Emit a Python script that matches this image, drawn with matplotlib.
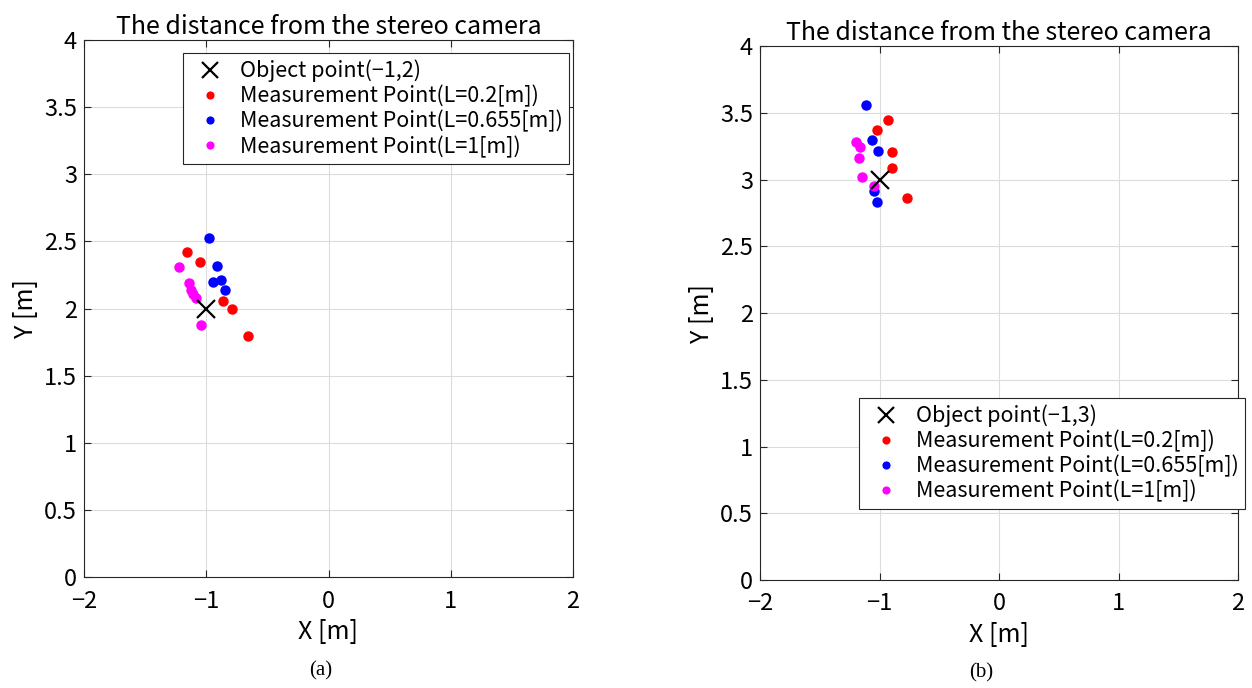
import matplotlib
matplotlib.use('Agg')
import matplotlib.pyplot as plt

plt.rcParams['font.family'] = ['Noto Sans CJK JP', 'DejaVu Sans']
plt.rcParams['axes.unicode_minus'] = True

# ---------------- data ----------------
# (a) object at (-1,2)
obj_a = (-1, 2)
red_a_x = [-1.155, -1.049, -0.861, -0.787, -0.657]
red_a_y = [2.421, 2.346, 2.056, 1.999, 1.793]
blue_a_x = [-0.975, -0.910, -0.943, -0.883, -0.850]
blue_a_y = [2.523, 2.317, 2.195, 2.210, 2.140]
mag_a_x = [-1.226, -1.139, -1.123, -1.105, -1.082, -1.044]
mag_a_y = [2.309, 2.190, 2.138, 2.110, 2.078, 1.877]

# (b) object at (-1,3)
obj_b = (-1, 3)
red_b_x = [-0.932, -1.025, -0.893, -0.895, -0.770]
red_b_y = [3.443, 3.373, 3.206, 3.088, 2.861]
blue_b_x = [-1.111, -1.064, -1.015, -1.044, -1.023]
blue_b_y = [3.558, 3.296, 3.213, 2.914, 2.829]
mag_b_x = [-1.198, -1.165, -1.171, -1.146, -1.044]
mag_b_y = [3.281, 3.246, 3.159, 3.021, 2.954]

labels = ['Measurement Point(L=0.2[m])', 'Measurement Point(L=0.655[m])',
          'Measurement Point(L=1[m])']

W, H = 1252, 688
fig = plt.figure(figsize=(12.52, 6.88), dpi=100)


def draw(rect, obj, reds, blues, mags, leg_anchor, cap):
    ax = fig.add_axes(rect)
    ax.plot(obj[0], obj[1], 'x', color='black', markersize=13, markeredgewidth=1.6,
            label=f'Object point(−{abs(obj[0])},{obj[1]})', zorder=5)
    for (xs, ys), c, lab in zip((reds, blues, mags), ('red', 'blue', 'magenta'), labels):
        ax.plot(xs, ys, 'o', color=c, markersize=6.5, linestyle='none', label=lab, zorder=4)
    ax.set_xlim(-2, 2)
    ax.set_ylim(0, 4)
    ax.set_xticks([-2, -1, 0, 1, 2])
    ax.set_yticks([0, 0.5, 1, 1.5, 2, 2.5, 3, 3.5, 4])
    ax.set_yticklabels(['0', '0.5', '1', '1.5', '2', '2.5', '3', '3.5', '4'])
    ax.grid(True, color='#dcdcdc', linewidth=0.8)
    ax.set_axisbelow(True)
    ax.tick_params(direction='in', top=True, right=True, labelsize=17, length=5,
                   color='#262626', pad=5)
    ax.tick_params(axis='x', pad=9)
    for s in ax.spines.values():
        s.set_color('#262626')
        s.set_linewidth(0.8)
    ax.set_title('The distance from the stereo camera', fontsize=18, pad=4)
    ax.set_xlabel('X [m]', fontsize=18, labelpad=5)
    ax.set_ylabel('Y [m]', fontsize=18, labelpad=4)
    leg = fig.legend(*ax.get_legend_handles_labels(), loc='upper left',
                     bbox_to_anchor=leg_anchor, fontsize=15.5, fancybox=False,
                     framealpha=1, edgecolor='#262626', borderpad=0.3,
                     borderaxespad=0, labelspacing=0.14, handletextpad=0.45,
                     handlelength=1.9, markerscale=0.75)
    leg.get_frame().set_linewidth(0.8)
    leg.legend_handles[0].set_markersize(12)
    fig.text(cap[0], cap[1], cap[2], ha='center', va='center', fontsize=15,
             family='Liberation Serif')
    return ax


draw([84 / W, 1 - 577 / H, 489 / W, 537 / H], obj_a,
     (red_a_x, red_a_y), (blue_a_x, blue_a_y), (mag_a_x, mag_a_y),
     (183 / W, 1 - 53 / H), (321 / W, 1 - 671 / H, '(a)'))
draw([760 / W, 1 - 580 / H, 478 / W, 534 / H], obj_b,
     (red_b_x, red_b_y), (blue_b_x, blue_b_y), (mag_b_x, mag_b_y),
     (859 / W, 1 - 398 / H), (981 / W, 1 - 673 / H, '(b)'))

fig.savefig('out.png', dpi=100)
